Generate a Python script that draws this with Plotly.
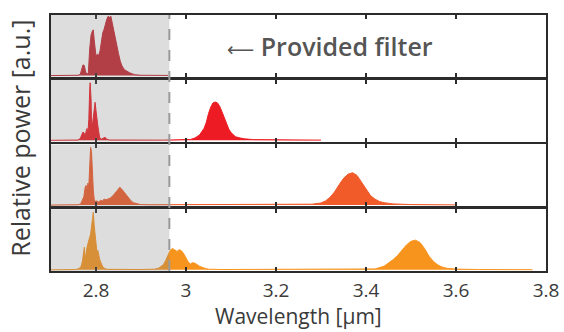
import plotly.graph_objects as go
from plotly.subplots import make_subplots

# ---------------- data ----------------
wl_1 = [2.70, 2.76, 2.765, 2.768, 2.771, 2.774, 2.777, 2.780, 2.783, 2.786, 2.789, 2.792,
        2.794, 2.796, 2.798, 2.800, 2.803, 2.806, 2.809, 2.812, 2.815, 2.818, 2.821, 2.824,
        2.827, 2.830, 2.833, 2.836, 2.839, 2.842, 2.846, 2.850, 2.854, 2.858, 2.863, 2.868,
        2.874, 2.880, 2.886, 2.90, 2.96]
pw_1 = [0.0, 0.005, 0.02, 0.12, 0.18, 0.17, 0.06, 0.02, 0.05, 0.45, 0.68, 0.75,
        0.77, 0.6, 0.42, 0.33, 0.36, 0.34, 0.42, 0.62, 0.72, 0.78, 0.88, 0.95,
        1.0, 0.98, 1.0, 0.88, 0.75, 0.65, 0.5, 0.37, 0.24, 0.16, 0.1, 0.07,
        0.05, 0.03, 0.015, 0.005, 0.002]

wl_2 = [2.70, 2.76, 2.765, 2.768, 2.771, 2.774, 2.776, 2.778, 2.780, 2.782, 2.784, 2.786,
        2.787, 2.789, 2.790, 2.792, 2.794, 2.796, 2.798, 2.800, 2.802, 2.804, 2.806, 2.808,
        2.812, 2.816, 2.820, 2.824, 2.83, 2.95, 3.00, 3.01, 3.02, 3.03, 3.04, 3.045, 3.05,
        3.055, 3.06, 3.065, 3.07, 3.075, 3.08, 3.085, 3.09, 3.095, 3.10, 3.105, 3.11, 3.12,
        3.13, 3.15, 3.20, 3.30]
pw_2 = [0.0, 0.005, 0.03, 0.08, 0.14, 0.12, 0.08, 0.15, 0.2, 0.12, 0.35, 0.85,
        0.97, 0.7, 0.3, 0.26, 0.4, 0.55, 0.64, 0.5, 0.3, 0.25, 0.15, 0.05,
        0.02, 0.04, 0.05, 0.02, 0.005, 0.003, 0.005, 0.015, 0.04, 0.09, 0.2, 0.3, 0.45,
        0.56, 0.63, 0.645, 0.63, 0.57, 0.48, 0.38, 0.28, 0.19, 0.13, 0.09, 0.06, 0.04,
        0.025, 0.012, 0.006, 0.003]

wl_3 = [2.70, 2.76, 2.766, 2.770, 2.773, 2.776, 2.778, 2.780, 2.782, 2.784, 2.786, 2.788,
        2.790, 2.792, 2.794, 2.796, 2.798, 2.802, 2.806, 2.810, 2.814, 2.818, 2.822, 2.826,
        2.832, 2.838, 2.844, 2.849, 2.853, 2.857, 2.862, 2.868, 2.873, 2.878, 2.883, 2.890,
        2.898, 2.92, 3.25, 3.28, 3.30, 3.31, 3.32, 3.33, 3.34, 3.35, 3.36, 3.37, 3.38, 3.39,
        3.40, 3.41, 3.42, 3.43, 3.44, 3.46, 3.50, 3.60]
pw_3 = [0.0, 0.005, 0.02, 0.08, 0.14, 0.3, 0.33, 0.26, 0.37, 0.32, 0.55, 0.97,
        0.9, 0.42, 0.25, 0.1, 0.06, 0.07, 0.05, 0.08, 0.07, 0.1, 0.09, 0.1,
        0.12, 0.16, 0.22, 0.28, 0.3, 0.27, 0.22, 0.15, 0.1, 0.07, 0.04, 0.02,
        0.01, 0.005, 0.005, 0.015, 0.035, 0.07, 0.13, 0.22, 0.34, 0.45, 0.52, 0.545, 0.5, 0.38,
        0.26, 0.16, 0.1, 0.06, 0.04, 0.02, 0.008, 0.003]

wl_4 = [2.70, 2.755, 2.762, 2.767, 2.770, 2.772, 2.774, 2.776, 2.778, 2.780, 2.782, 2.784,
        2.786, 2.788, 2.790, 2.792, 2.794, 2.796, 2.798, 2.800, 2.802, 2.804, 2.806, 2.808,
        2.811, 2.815, 2.820, 2.825, 2.90, 2.93, 2.94, 2.95, 2.955, 2.96, 2.965, 2.97, 2.975,
        2.98, 2.985, 2.99, 2.995, 3.00, 3.005, 3.01, 3.015, 3.02, 3.025, 3.03, 3.04, 3.05,
        3.08, 3.40, 3.42, 3.44, 3.45, 3.46, 3.47, 3.48, 3.49, 3.50, 3.51, 3.52, 3.53, 3.54,
        3.55, 3.56, 3.57, 3.58, 3.60, 3.65, 3.77]
pw_4 = [0.0, 0.005, 0.02, 0.06, 0.15, 0.28, 0.38, 0.22, 0.25, 0.38, 0.45, 0.5,
        0.55, 0.6, 0.76, 0.88, 0.97, 0.75, 0.55, 0.38, 0.3, 0.33, 0.25, 0.18,
        0.12, 0.05, 0.02, 0.008, 0.005, 0.01, 0.03, 0.09, 0.16, 0.26, 0.33, 0.36, 0.34,
        0.31, 0.34, 0.32, 0.27, 0.2, 0.13, 0.1, 0.12, 0.11, 0.08, 0.06, 0.03, 0.01,
        0.005, 0.005, 0.015, 0.06, 0.11, 0.17, 0.24, 0.33, 0.42, 0.48, 0.5, 0.46, 0.36, 0.23,
        0.14, 0.08, 0.045, 0.025, 0.012, 0.005, 0.002]

series_wl = [wl_1, wl_2, wl_3, wl_4]
series_pw = [pw_1, pw_2, pw_3, pw_4]
series_colors = ["#C42631", "#ED1C24", "#F15A29", "#F7941D"]

tick_vals = [2.8, 3.0, 3.2, 3.4, 3.6, 3.8]
tick_text = ["2.8", "3", "3.2", "3.4", "3.6", "3.8"]
x_range = [2.7, 3.8]
filter_edge = 2.963
x_title = "Wavelength [\u03bcm]"
y_title = "Relative power [a.u.]"
annotation_text = ("<span style='font-family:DejaVu Sans;font-weight:normal;font-size:19px'>"
                   "\u27f5</span> Provided filter")

FONT = "Open Sans"
TXT = "#3a3a3a"

fig = make_subplots(rows=4, cols=1, shared_xaxes=True, vertical_spacing=0.0117)

for i, (x, y, c) in enumerate(zip(series_wl, series_pw, series_colors), start=1):
    fig.add_trace(go.Scatter(x=x, y=y, mode="lines", line=dict(color=c, width=1),
                             fill="tozeroy", fillcolor=c, showlegend=False,
                             hoverinfo="skip"), row=i, col=1)
    # gray overlay of the "provided filter" band
    fig.add_shape(type="rect", xref=f"x{i}" if i > 1 else "x",
                  yref=(f"y{i} domain" if i > 1 else "y domain"),
                  x0=x_range[0], x1=filter_edge, y0=0, y1=1,
                  fillcolor="rgba(128,128,128,0.27)", line_width=0, layer="above")

fig.add_shape(type="line", xref="x4", yref="paper", x0=filter_edge, x1=filter_edge,
              y0=0, y1=1, line=dict(color="#9a9a9a", width=2, dash="11px,10px"),
              layer="above")

for i in range(1, 5):
    fig.update_xaxes(range=x_range, tickvals=tick_vals, ticktext=tick_text,
                     ticks="inside", ticklen=4, tickwidth=2, tickcolor="#2b2b2b",
                     showline=True, linecolor="#2b2b2b", linewidth=2, mirror="ticks",
                     showgrid=False, zeroline=False, automargin=False,
                     showticklabels=(i == 4), row=i, col=1)
    fig.update_yaxes(range=[-0.02, 1.02], showticklabels=False, ticks="",
                     showline=True, linecolor="#2b2b2b", linewidth=2, mirror=True,
                     showgrid=False, zeroline=False, automargin=False, row=i, col=1)

fig.update_xaxes(tickfont=dict(size=19, color=TXT), ticklabelstandoff=1, row=4, col=1)

fig.add_annotation(text=x_title, xref="paper", yref="paper",
                   x=0.5, y=-0.234, showarrow=False, xanchor="center", yanchor="bottom",
                   font=dict(size=21, color=TXT), borderpad=0)

fig.add_annotation(text=y_title, xref="paper", yref="paper",
                   x=-0.063, y=0.52, textangle=-90, showarrow=False,
                   font=dict(size=25, color=TXT), xanchor="center", yanchor="middle")

fig.add_annotation(text=annotation_text, xref="paper", yref="paper",
                   x=0.5636, y=0.879, showarrow=False, xanchor="center", yanchor="middle",
                   font=dict(size=25, color="#555555", family=FONT, weight=600))

fig.update_layout(width=564, height=332, margin=dict(l=51, r=18, t=15, b=61),
                  paper_bgcolor="white", plot_bgcolor="white",
                  font=dict(family=FONT, color=TXT))

fig.write_html("out.html", config={"displayModeBar": False},
               post_script="document.body.style.margin='0';document.body.style.overflow='hidden';")
